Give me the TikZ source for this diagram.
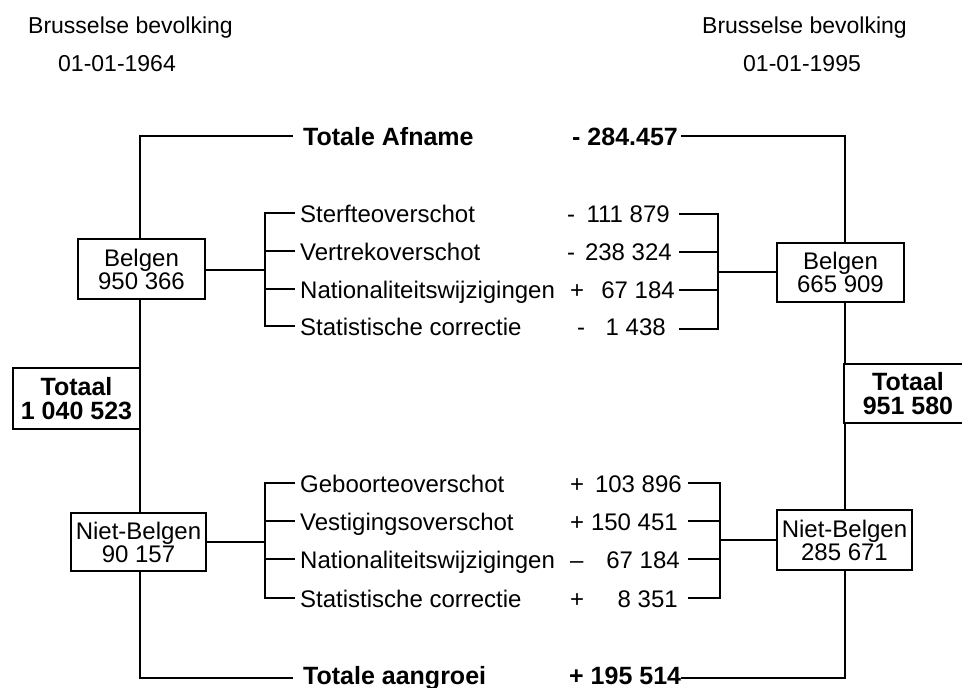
\documentclass[tikz,border=0pt]{standalone}
\usepackage{fontspec}
\setmainfont{Liberation Sans}
\begin{document}
\begin{tikzpicture}[x=1pt,y=-1pt,
  ln/.style={line width=2.5pt, line join=miter},
  bx/.style={draw, line width=2.5pt, inner sep=0pt, align=center, font=\fontsize{24}{23}\selectfont},
  bbx/.style={bx, font=\fontsize{25}{24}\selectfont\bfseries},
  txt/.style={inner sep=0pt, anchor=base west, font=\fontsize{24}{28}\selectfont},
  num/.style={inner sep=0pt, anchor=base east, font=\fontsize{24}{28}\selectfont},
  btxt/.style={inner sep=0pt, anchor=base west, font=\fontsize{25}{28}\selectfont\bfseries},
  ttl/.style={inner sep=0pt, anchor=base west, font=\fontsize{23}{28}\selectfont}]
\useasboundingbox[fill=white] (0,0) rectangle (962,688);

% titles
\node[ttl] (t1) at (28,33) {Brusselse bevolking};
\node[ttl] (t2) at (58,71) {01-01-1964};
\node[ttl] (t3) at (702,33) {Brusselse bevolking};
\node[ttl] (t4) at (743,71) {01-01-1995};

% boxes
\node[bx, minimum width=127pt, minimum height=60pt] (bl) at (141.5,269) {Belgen\\950 366};
\node[bbx, minimum width=127pt, minimum height=61pt] (tot1) at (76.5,398.5) {Totaal\\1 040 523};
\node[bx, minimum width=135pt, minimum height=58pt] (nb) at (138.5,542) {Niet-Belgen\\90 157};
\node[bx, minimum width=127pt, minimum height=59pt] (br) at (840.5,272.5) {Belgen\\665 909};
\node[bbx, minimum width=128pt, minimum height=59pt] (tot2) at (908,393.5) {Totaal\\951 580};
\node[bx, minimum width=135pt, minimum height=60pt] (nbr) at (844.5,540) {Niet-Belgen\\285 671};

% bold totals
\node[btxt] (ta) at (303,145) {Totale Afname};
\node[btxt] (tan) at (572,145) {- 284.457};
\node[btxt] (tg) at (303,684) {Totale aangroei};
\node[btxt] (tgn) at (569,684) {+ 195 514};

% top group
\node[txt] (a1) at (300,222) {Sterfteoverschot};
\node[txt] (a2) at (300,260) {Vertrekoverschot};
\node[txt] (a3) at (300,298) {Nationaliteitswijzigingen};
\node[txt] (a4) at (300,335) {Statistische correctie};
\node[txt] (as1) at (567,222) {-};
\node[txt] (as2) at (567,260) {-};
\node[txt] (as3) at (570,298) {+};
\node[txt] (as4) at (577,335) {-};
\node[num] (an1) at (670,222) {111 879};
\node[num] (an2) at (672,260) {238 324};
\node[num] (an3) at (675,298) {67 184};
\node[num] (an4) at (666,335) {1 438};

% bottom group
\node[txt] (b1) at (300,492) {Geboorteoverschot};
\node[txt] (b2) at (300,530) {Vestigingsoverschot};
\node[txt] (b3) at (300,568) {Nationaliteitswijzigingen};
\node[txt] (b4) at (300,607) {Statistische correctie};
\node[txt] (bs1) at (570,492) {+};
\node[txt] (bs2) at (570,530) {+};
\node[txt] (bs3) at (570,568) {–};
\node[txt] (bs4) at (570,607) {+};
\node[num] (bn1) at (682,492) {103 896};
\node[num] (bn2) at (678,530) {150 451};
\node[num] (bn3) at (680,568) {67 184};
\node[num] (bn4) at (678,607) {8 351};

% helper coordinates
\coordinate (tl) at (140,136);
\coordinate (tle) at (293,136);
\coordinate (bll) at (140,678);
\coordinate (ble) at (293,678);
\coordinate (tr) at (845,136);
\coordinate (brl) at (845,678);

% left spine
\draw[ln] (tle) -- (tl) -- (tl |- bl.north);
\draw[ln] (tl |- bl.south) -- (tl |- tot1.north);
\draw[ln] (tl |- tot1.south) -- (tl |- nb.north);
\draw[ln] (tl |- nb.south) -- (bll) -- (ble);

% right spine
\draw[ln] ([xshift=3pt]tan.east |- tr) -- (tr) -- (tr |- br.north);
\draw[ln] (tr |- br.south) -- (tr |- tot2.north);
\draw[ln] (tr |- tot2.south) -- (tr |- nbr.north);
\draw[ln] (tr |- nbr.south) -- (brl) -- (tgn.east |- brl);

% top-left bracket
\coordinate (k1) at (265,270);
\draw[ln] (bl.east |- k1) -- (k1);
\draw[ln] (295,213) -- (265,213) -- (265,326) -- (295,326);
\draw[ln] (265,251) -- (295,251);
\draw[ln] (265,289) -- (295,289);

% top-right bracket
\coordinate (k2) at (718,272);
\draw[ln] (k2) -- (br.west |- k2);
\draw[ln] (679,214) -- (718,214) -- (718,329) -- (679,329);
\draw[ln] (679,252) -- (718,252);
\draw[ln] (679,290) -- (718,290);

% bottom-left bracket
\coordinate (k3) at (265,542);
\draw[ln] (nb.east) -- (k3);
\draw[ln] (295,483) -- (265,483) -- (265,598) -- (295,598);
\draw[ln] (265,521) -- (295,521);
\draw[ln] (265,559) -- (295,559);

% bottom-right bracket
\coordinate (k4) at (720,540);
\draw[ln] (k4) -- (nbr.west);
\draw[ln] (688,483) -- (720,483) -- (720,598) -- (688,598);
\draw[ln] (688,521) -- (720,521);
\draw[ln] (688,559) -- (720,559);
\end{tikzpicture}
\end{document}
